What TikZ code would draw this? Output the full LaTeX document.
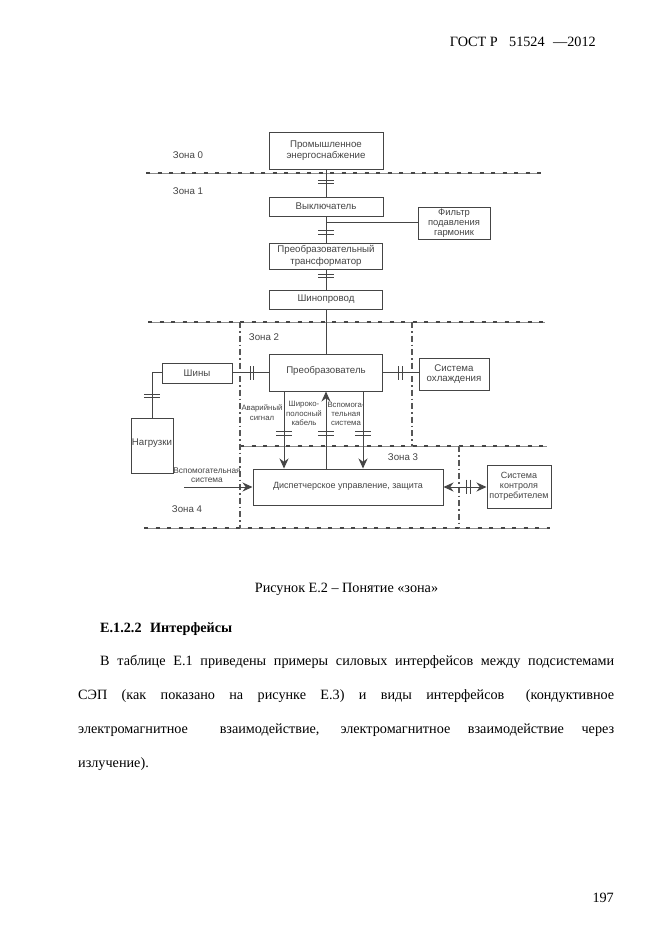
\documentclass[tikz,border=0pt]{standalone}
\usepackage{fontspec}
\setmainfont{Liberation Serif}
\newfontfamily\diagfont{Liberation Sans}
\usetikzlibrary{arrows.meta}
\definecolor{ink}{gray}{0.27}
\tikzset{
  blockbox/.style={draw=ink,line width=1pt,text=ink,inner sep=0pt,align=center,font=\diagfont\fontsize{9.7}{11.3}\selectfont},
  wire/.style={draw=ink,line width=1pt},
  plate/.style={draw=ink,line width=1.3pt},
  zonerule/.style={draw=black!45,line width=0.9pt,postaction={draw=ink,line width=1.3pt,dash pattern=on 4pt off 7.5pt}},
  zonevert/.style={draw=ink!90,line width=1.1pt,dash pattern=on 6pt off 3pt on 1.5pt off 3pt},
  zonelabel/.style={text=ink,inner sep=0pt,font=\diagfont\fontsize{9.7}{11}\selectfont},
  smalllabel/.style={text=ink,inner sep=0pt,align=center,font=\diagfont\fontsize{7.8}{9.3}\selectfont},
  pagetext/.style={anchor=base west,inner sep=0pt,text=black,font=\fontsize{14.2}{16}\selectfont},
  bigtip/.style={-{Stealth[length=10pt,width=9pt]}},
}
\newcommand{\plateH}[2]{\draw[plate] (#1-8,#2-1.8) -- (#1+8,#2-1.8) (#1-8,#2+1.8) -- (#1+8,#2+1.8);}
\newcommand{\plateV}[2]{\draw[plate] (#1-1.8,#2-7) -- (#1-1.8,#2+7) (#1+1.8,#2-7) -- (#1+1.8,#2+7);}
\begin{document}
\begin{tikzpicture}[x=1pt,y=-1pt]
\useasboundingbox (0,0) rectangle (661,935);
\fill[white] (0,0) rectangle (661,935);
% zone rule ends
\coordinate (z0l) at (146,173); \coordinate (z0r) at (541,173);
\coordinate (z1l) at (148,322); \coordinate (z1r) at (545,322);
\coordinate (z2l) at (240,446); \coordinate (z2r) at (547,446);
\coordinate (z3l) at (144,528); \coordinate (z3r) at (550,528);
\coordinate (xA) at (284,0); \coordinate (xB) at (326,0); \coordinate (xC) at (363,0);
\coordinate (xL) at (240,0); \coordinate (xM) at (412,0); \coordinate (xR) at (459,0);
\coordinate (yS) at (0,372); \coordinate (yB) at (0,222); \coordinate (yK) at (0,487);
\coordinate (auxStart) at (184,487); \coordinate (bendN) at (152,372);
% blocks
\node[blockbox,minimum width=114pt,minimum height=37pt] (prom) at (326,150.5) {Промышленное\\энергоснабжение};
\node[blockbox,minimum width=114pt,minimum height=19pt] (vykl) at (326,206.5) {\raisebox{1pt}{Выключатель}};
\node[blockbox,minimum width=72pt,minimum height=32pt,font=\diagfont\fontsize{9.4}{10}\selectfont] (filt) at (454,223) {Фильтр\\подавления\\гармоник};
\node[blockbox,minimum width=113pt,minimum height=26pt] (trans) at (326,256) {Преобразовательный\\трансформатор};
\node[blockbox,minimum width=113pt,minimum height=19pt] (shin) at (326,299.5) {\raisebox{1pt}{Шинопровод}};
\node[blockbox,minimum width=113pt,minimum height=37pt] (conv) at (326,372.5) {\raisebox{5pt}{Преобразователь}};
\node[blockbox,minimum width=70pt,minimum height=20pt] (bus) at (197,373) {Шины};
\node[blockbox,minimum width=42pt,minimum height=55pt] (load) at (152,445.5) {\raisebox{6pt}{Нагрузки}};
\node[blockbox,minimum width=190pt,minimum height=36pt,font=\diagfont\fontsize{9}{10}\selectfont] (disp) at (348,487) {\raisebox{4pt}{Диспетчерское управление, защита}};
\node[blockbox,minimum width=70pt,minimum height=32pt,font=\diagfont\fontsize{9.7}{10}\selectfont] (cool) at (454,374) {Система\\охлаждения};
\node[blockbox,minimum width=64pt,minimum height=43pt,font=\diagfont\fontsize{9}{9.7}\selectfont] (ctrl) at (519,486.5) {\raisebox{2pt}{\begin{tabular}{@{}c@{}}Система\\контроля\\потребителем\end{tabular}}};
% zone rules
\draw[zonerule] (z0l) -- (z0r);
\draw[zonerule] (z1l) -- (z1r);
\draw[zonerule] (z2l) -- (z2r);
\draw[zonerule] (z3l) -- (z3r);
\draw[zonevert] (z1l -| xL) -- (z3l -| xL);
\draw[zonevert] (z1l -| xM) -- (z2l -| xM);
\draw[zonevert] (z2l -| xR) -- (z3l -| xR);
% connectors
\draw[wire] (prom.south) -- (vykl.north);
\draw[wire] (vykl.south) -- (trans.north);
\draw[wire] (vykl.south |- yB) -- (filt.west |- yB);
\draw[wire] (trans.south) -- (shin.north);
\draw[wire] (shin.south) -- (conv.north);
\draw[wire] (bus.east |- yS) -- (conv.west |- yS);
\draw[wire] (conv.east |- yS) -- (cool.west |- yS);
\draw[wire] (bus.west |- yS) -- (bendN) -- (load.north);
\draw[wire,bigtip] (conv.south -| xA) -- (disp.north -| xA);
\draw[wire,bigtip] (disp.north -| xB) -- (conv.south -| xB);
\draw[wire,bigtip] (conv.south -| xC) -- (disp.north -| xC);
\draw[wire,bigtip] (auxStart) -- (disp.west |- auxStart);
\draw[wire,{Stealth[length=10pt,width=9pt]}-{Stealth[length=10pt,width=9pt]}] (disp.east |- yK) -- (ctrl.west |- yK);
% coupling plates
\plateH{326}{182}
\plateH{326}{232.5}
\plateH{326}{276}
\plateH{152}{396}
\plateH{284}{433.5}
\plateH{326}{433.5}
\plateH{363}{433.5}
\plateV{252}{373}
\plateV{400.5}{373}
\plateV{468.5}{486.5}
% zone labels
\node[zonelabel] (lz0) at (188,155) {Зона 0};
\node[zonelabel] (lz1) at (188,191) {Зона 1};
\node[zonelabel] (lz2) at (264,337) {Зона 2};
\node[zonelabel] (lz3) at (403,457) {Зона 3};
\node[zonelabel] (lz4) at (187,509) {Зона 4};
% small labels
\node[smalllabel] (lalarm) at (262,412.5) {Аварийный\\сигнал};
\node[smalllabel] (lwide) at (304,413.5) {Широко-\\полосный\\кабель};
\node[smalllabel] (laux) at (346,414) {Вспомога-\\тельная\\система};
\node[smalllabel,font=\diagfont\fontsize{8.3}{9.3}\selectfont] (lauxl) at (207,475.5) {Вспомогательная\\система};
% page text
\node[anchor=base east,inner sep=0pt,font=\fontsize{14.2}{16}\selectfont] (hdr) at (596,46) {ГОСТ Р\hspace{0.8em}51524\hspace{0.6em}—2012};
\node[pagetext,anchor=base] (cap) at (346.5,592) {Рисунок Е.2 – Понятие «зона»};
\node[pagetext,font=\bfseries\fontsize{14.2}{16}\selectfont] (sec) at (100,632) {Е.1.2.2\hspace{0.6em}Интерфейсы};
\node[pagetext] (l1) at (100,665) {\makebox[514pt][s]{В таблице Е.1 приведены примеры силовых интерфейсов между подсистемами}};
\node[pagetext] (l2) at (78,699) {\makebox[536pt][s]{СЭП (как показано на рисунке Е.3) и виды интерфейсов\hspace{0.5em} (кондуктивное}};
\node[pagetext] (l3) at (78,733) {\makebox[536pt][s]{электромагнитное\hspace{1em} взаимодействие, электромагнитное взаимодействие через}};
\node[pagetext] (l4) at (78,767) {излучение).};
\node[anchor=base east,inner sep=0pt,font=\fontsize{14.2}{16}\selectfont] (pg) at (614,902) {197};
\end{tikzpicture}
\end{document}
